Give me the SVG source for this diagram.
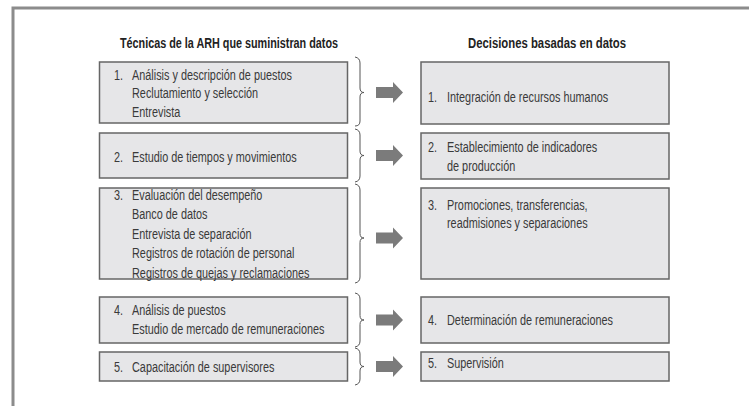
<svg xmlns="http://www.w3.org/2000/svg" width="749" height="406" viewBox="0 0 749 406">
<style>
.bx{fill:#e6e6e8;stroke:#666;stroke-width:1.5}
.t{font-family:"Liberation Sans",Arial,sans-serif;font-size:14.5px;fill:#3a3a3a}
.h{font-family:"Liberation Sans",Arial,sans-serif;font-size:14px;font-weight:bold;fill:#222}
.br{fill:none;stroke:#555;stroke-width:1}
.ar{fill:#7b7b7b}
</style>
<defs>
<path id="arrow" class="ar" d="M0,-5.5 L17,-5.5 L17,-10.5 L27,0 L17,10.5 L17,5.5 L0,5.5 Z"/>
</defs>
<rect width="749" height="406" fill="#fff"/>
<path d="M13,406 L13,8 L749,8" fill="none" stroke="#8c8c8c" stroke-width="3"/>

<g id="headings">
<text class="h" x="120" y="48" textLength="218" lengthAdjust="spacingAndGlyphs">Técnicas de la ARH que suministran datos</text>
<text class="h" x="468" y="48" textLength="158" lengthAdjust="spacingAndGlyphs">Decisiones basadas en datos</text>
</g>

<g id="L1">
<rect class="bx" x="99.5" y="62" width="248" height="61"/>
<g transform="translate(114 0) scale(0.75 1)"><text class="t" x="0" y="80">1.</text></g>
<g transform="translate(132 0) scale(0.75 1)">
<text class="t" x="0" y="80">Análisis y descripción de puestos</text>
<text class="t" x="0" y="98.5">Reclutamiento y selección</text>
<text class="t" x="0" y="117">Entrevista</text>
</g>
</g>
<g id="L2">
<rect class="bx" x="99.5" y="133" width="248" height="45"/>
<g transform="translate(114 0) scale(0.75 1)"><text class="t" x="0" y="162">2.</text></g>
<g transform="translate(132 0) scale(0.75 1)"><text class="t" x="0" y="162">Estudio de tiempos y movimientos</text></g>
</g>
<g id="L3">
<rect class="bx" x="99.5" y="188" width="248" height="91"/>
<g transform="translate(114 0) scale(0.75 1)"><text class="t" x="0" y="200">3.</text></g>
<g transform="translate(132 0) scale(0.75 1)">
<text class="t" x="0" y="200">Evaluación del desempeño</text>
<text class="t" x="0" y="219.5">Banco de datos</text>
<text class="t" x="0" y="239">Entrevista de separación</text>
<text class="t" x="0" y="258.5">Registros de rotación de personal</text>
<text class="t" x="0" y="278">Registros de quejas y reclamaciones</text>
</g>
</g>
<g id="L4">
<rect class="bx" x="99.5" y="297" width="248" height="46"/>
<g transform="translate(114 0) scale(0.75 1)"><text class="t" x="0" y="315">4.</text></g>
<g transform="translate(132 0) scale(0.75 1)">
<text class="t" x="0" y="315">Análisis de puestos</text>
<text class="t" x="0" y="334">Estudio de mercado de remuneraciones</text>
</g>
</g>
<g id="L5">
<rect class="bx" x="99.5" y="352" width="248" height="29"/>
<g transform="translate(114 0) scale(0.75 1)"><text class="t" x="0" y="372">5.</text></g>
<g transform="translate(132 0) scale(0.75 1)"><text class="t" x="0" y="372">Capacitación de supervisores</text></g>
</g>

<g id="R1">
<rect class="bx" x="421" y="62" width="248" height="62"/>
<g transform="translate(428 0) scale(0.75 1)"><text class="t" x="0" y="102">1.</text></g>
<g transform="translate(447 0) scale(0.75 1)"><text class="t" x="0" y="102">Integración de recursos humanos</text></g>
</g>
<g id="R2">
<rect class="bx" x="421" y="133" width="248" height="46"/>
<g transform="translate(428 0) scale(0.75 1)"><text class="t" x="0" y="152">2.</text></g>
<g transform="translate(447 0) scale(0.75 1)">
<text class="t" x="0" y="152">Establecimiento de indicadores</text>
<text class="t" x="0" y="171">de producción</text>
</g>
</g>
<g id="R3">
<rect class="bx" x="421" y="188" width="248" height="91"/>
<g transform="translate(428 0) scale(0.75 1)"><text class="t" x="0" y="210">3.</text></g>
<g transform="translate(447 0) scale(0.75 1)">
<text class="t" x="0" y="210">Promociones, transferencias,</text>
<text class="t" x="0" y="228">readmisiones y separaciones</text>
</g>
</g>
<g id="R4">
<rect class="bx" x="421" y="297" width="248" height="46"/>
<g transform="translate(428 0) scale(0.75 1)"><text class="t" x="0" y="325">4.</text></g>
<g transform="translate(447 0) scale(0.75 1)"><text class="t" x="0" y="325">Determinación de remuneraciones</text></g>
</g>
<g id="R5">
<rect class="bx" x="421" y="352" width="248" height="29"/>
<g transform="translate(428 0) scale(0.75 1)"><text class="t" x="0" y="368">5.</text></g>
<g transform="translate(447 0) scale(0.75 1)"><text class="t" x="0" y="368">Supervisión</text></g>
</g>

<g id="connectors">
<path class="br" d="M355,57 Q360,58 360,63 L360,88 Q360,92.5 364,92.5 Q360,92.5 360,97 L360,121 Q360,126 355,126"/>
<path class="br" d="M355,129 Q360,130 360,135 L360,151 Q360,155.5 364,155.5 Q360,155.5 360,160 L360,176 Q360,181 355,182"/>
<path class="br" d="M355,184 Q360,185 360,190 L360,233.5 Q360,238 364,238 Q360,238 360,242.5 L360,277 Q360,282 355,283"/>
<path class="br" d="M355,293 Q360,294 360,299 L360,315.5 Q360,320 364,320 Q360,320 360,324.5 L360,341 Q360,346 355,347"/>
<path class="br" d="M355,348 Q360,349 360,354 L360,362 Q360,366.5 364,366.5 Q360,366.5 360,371 L360,379 Q360,384 355,385"/>
<use href="#arrow" x="376" y="92.5"/>
<use href="#arrow" x="376" y="155.5"/>
<use href="#arrow" x="376" y="238"/>
<use href="#arrow" x="376" y="320"/>
<use href="#arrow" x="376" y="366.5"/>
</g>
</svg>
